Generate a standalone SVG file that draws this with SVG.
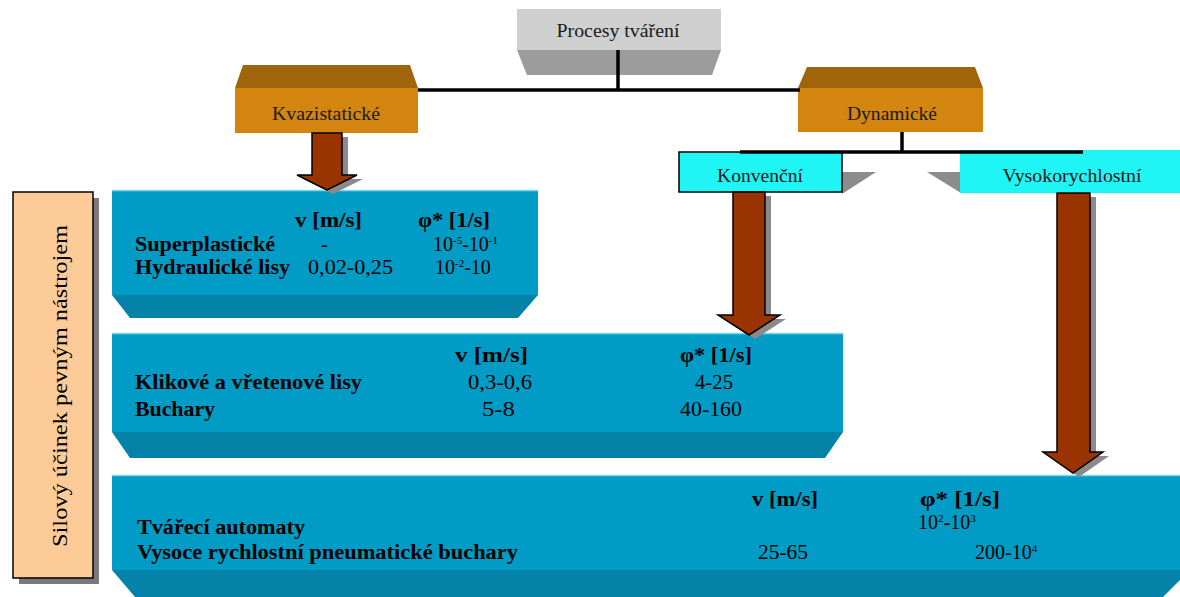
<svg xmlns="http://www.w3.org/2000/svg" width="1180" height="597" viewBox="0 0 1180 597">
<style>
.lbl{font-family:"Liberation Serif","Times New Roman",serif;font-size:18px;fill:#1a1a1a}
.b{font-family:"Liberation Serif","Times New Roman",serif;font-size:20px;font-weight:bold;fill:#000}
.n{font-family:"Liberation Serif","Times New Roman",serif;font-size:20px;fill:#000}
.sup{font-size:11px}
.front{fill:#009cc6}
.bev{fill:#0582a8}
.hl{stroke:#7fd6ee;stroke-width:1.5}
.line{stroke:#000;stroke-width:3.5;fill:none}
.arrow{fill:#993300;stroke:#000;stroke-width:1.5;stroke-linejoin:miter}
.ashadow{fill:#8a8a8a}
.otop{fill:#a0650a}
.ofront{fill:#d3850f}
</style>
<rect width="1180" height="597" fill="#fff"/>

<g id="node-procesy">
<polygon points="517,50 721,50 712,75 527,75" fill="#9c9c9c"/>
<rect x="517" y="9" width="204" height="41" fill="#cfcfcf"/>
<text class="lbl" x="618" y="37" text-anchor="middle" textLength="123" lengthAdjust="spacingAndGlyphs">Procesy tváření</text>
</g>

<g id="node-kvazistaticke">
<polygon points="243,65 410,65 418,88 235,88" class="otop"/>
<rect x="235" y="88" width="183" height="45" class="ofront"/>
<text class="lbl" x="326" y="120" text-anchor="middle" textLength="108" lengthAdjust="spacingAndGlyphs">Kvazistatické</text>
</g>

<g id="node-dynamicke">
<polygon points="807,67 975,67 983,88 798,88" class="otop"/>
<rect x="798" y="88" width="185" height="44" class="ofront"/>
<text class="lbl" x="892" y="120" text-anchor="middle" textLength="90" lengthAdjust="spacingAndGlyphs">Dynamické</text>
</g>

<g id="node-konvencni">
<polygon points="842,172 876,172 842,194" fill="#8c8c8c"/>
<rect x="679" y="152" width="163" height="40" fill="#1ff5f5" stroke="#000" stroke-width="1.5"/>
<text class="lbl" x="760" y="182" text-anchor="middle" textLength="86" lengthAdjust="spacingAndGlyphs">Konvenční</text>
</g>

<g id="node-vysokorychlostni">
<polygon points="927,172 961,172 961,193" fill="#8c8c8c"/>
<rect x="960" y="150" width="220" height="43" fill="#1ff5f5"/>
<text class="lbl" x="1072" y="182" text-anchor="middle" textLength="139" lengthAdjust="spacingAndGlyphs">Vysokorychlostní</text>
</g>

<g id="node-silovy">
<rect x="19" y="198" width="80" height="386" fill="#7a7a7a"/>
<rect x="13" y="192" width="80" height="386" fill="#fdcb98" stroke="#000" stroke-width="1.5"/>
<text class="n" transform="translate(67,386) rotate(-90)" text-anchor="middle" style="font-size:22px" textLength="322" lengthAdjust="spacingAndGlyphs">Silový účinek pevným nástrojem</text>
</g>

<g id="node-box1">
<polygon points="112,295 538,295 518,318 130,318" class="bev"/>
<rect x="112" y="190" width="426" height="105" class="front"/>
<line x1="112" y1="190.5" x2="538" y2="190.5" class="hl"/>
<text class="b" x="295" y="227" textLength="67" lengthAdjust="spacingAndGlyphs">v [m/s]</text>
<text class="b" x="418" y="227" textLength="72" lengthAdjust="spacingAndGlyphs">φ* [1/s]</text>
<text class="b" x="135" y="251" textLength="140" lengthAdjust="spacingAndGlyphs">Superplastické</text>
<text class="n" x="321" y="251">-</text>
<text class="n" x="433" y="251">10<tspan class="sup" dy="-7">-5</tspan><tspan dy="7">-10</tspan><tspan class="sup" dy="-7">-1</tspan></text>
<text class="b" x="135" y="274" textLength="155" lengthAdjust="spacingAndGlyphs">Hydraulické lisy</text>
<text class="n" x="308" y="274" textLength="85" lengthAdjust="spacingAndGlyphs">0,02-0,25</text>
<text class="n" x="435" y="274">10<tspan class="sup" dy="-7">-2</tspan><tspan dy="7">-10</tspan></text>
</g>

<g id="node-box2">
<polygon points="112,432 843,432 825,458 130,458" class="bev"/>
<rect x="112" y="333" width="731" height="99" class="front"/>
<line x1="112" y1="333.5" x2="843" y2="333.5" class="hl"/>
<text class="b" x="455" y="362" textLength="73" lengthAdjust="spacingAndGlyphs">v [m/s]</text>
<text class="b" x="680" y="362" textLength="72" lengthAdjust="spacingAndGlyphs">φ* [1/s]</text>
<text class="b" x="135" y="389" textLength="227" lengthAdjust="spacingAndGlyphs">Klikové a vřetenové lisy</text>
<text class="n" x="468" y="389" textLength="64" lengthAdjust="spacingAndGlyphs">0,3-0,6</text>
<text class="n" x="695" y="389" textLength="38" lengthAdjust="spacingAndGlyphs">4-25</text>
<text class="b" x="135" y="416" textLength="80" lengthAdjust="spacingAndGlyphs">Buchary</text>
<text class="n" x="482" y="416" textLength="33" lengthAdjust="spacingAndGlyphs">5-8</text>
<text class="n" x="680" y="416" textLength="62" lengthAdjust="spacingAndGlyphs">40-160</text>
</g>

<g id="node-box3">
<polygon points="112,570 1180,570 1180,580 1163,597 135,597" class="bev"/>
<rect x="112" y="475" width="1068" height="95" class="front"/>
<line x1="112" y1="475.5" x2="1180" y2="475.5" class="hl"/>
<text class="b" x="752" y="506" textLength="66" lengthAdjust="spacingAndGlyphs">v [m/s]</text>
<text class="b" x="920" y="506" textLength="80" lengthAdjust="spacingAndGlyphs">φ* [1/s]</text>
<text class="b" x="137" y="534" textLength="168" lengthAdjust="spacingAndGlyphs">Tvářecí automaty</text>
<text class="n" x="918" y="529">10<tspan class="sup" dy="-7">2</tspan><tspan dy="7">-10</tspan><tspan class="sup" dy="-7">3</tspan></text>
<text class="b" x="137" y="559" textLength="381" lengthAdjust="spacingAndGlyphs">Vysoce rychlostní pneumatické buchary</text>
<text class="n" x="758" y="559" textLength="50" lengthAdjust="spacingAndGlyphs">25-65</text>
<text class="n" x="975" y="559">200-10<tspan class="sup" dy="-7">4</tspan></text>
</g>

<g id="connectors">
<line x1="618" y1="50" x2="618" y2="90" class="line"/>
<line x1="418" y1="90" x2="800" y2="90" class="line"/>
<line x1="902" y1="132" x2="902" y2="152" class="line"/>
<line x1="740" y1="152" x2="1083" y2="152" class="line"/>

<polygon class="ashadow" points="318,137 348,137 348,179 363,179 333,194 303,179 318,179"/>
<polygon class="arrow" points="312,133 342,133 342,175 357,175 327,190 297,175 312,175"/>

<polygon class="ashadow" points="739,196 771,196 771,319 786,319 755,339 724,319 739,319"/>
<polygon class="arrow" points="733,192 765,192 765,315 780,315 749,335 718,315 733,315"/>

<polygon class="ashadow" points="1063,197 1096,197 1096,456 1109,456 1079,477 1049,456 1063,456"/>
<polygon class="arrow" points="1057,193 1090,193 1090,452 1103,452 1073,473 1043,452 1057,452"/>
</g>
</svg>
